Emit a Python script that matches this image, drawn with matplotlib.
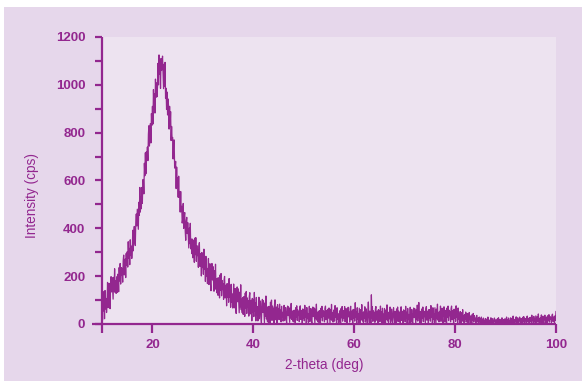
import matplotlib
matplotlib.use("Agg")
import matplotlib.pyplot as plt
import numpy as np
from matplotlib.patches import Rectangle
from matplotlib import font_manager

# ---- data ----
two_theta_start = 10.0
two_theta_step = 0.1
intensity = [
    91, 16, 136, 55, 101, 22, 140, 63, 107, 48,           # 10
    86, 174, 68, 138, 170, 94, 64, 168, 198, 134,         # 11
    194, 145, 104, 195, 138, 231, 132, 181, 128, 197,     # 12
    132, 208, 197, 135, 236, 180, 253, 167, 236, 204,     # 13
    233, 175, 264, 288, 205, 233, 272, 194, 295, 245,     # 14
    302, 238, 344, 274, 316, 248, 352, 286, 326, 274,     # 15
    308, 392, 306, 374, 408, 348, 328, 426, 460, 410,     # 16
    480, 433, 396, 509, 454, 571, 468, 533, 482, 571,     # 17
    504, 604, 604, 544, 672, 620, 716, 628, 720, 696,     # 18
    740, 683, 794, 829, 744, 783, 838, 757, 880, 831,     # 19
    910, 836, 980, 900, 962, 882, 1024, 948, 1008, 950,   # 20
    990, 1090, 1000, 1125, 1045, 1105, 985, 1110, 1060, 1095,  # 21
    1120, 1050, 984, 1086, 993, 1094, 944, 986, 897, 970,      # 22
    874, 941, 908, 815, 910, 825, 888, 767, 826, 769,     # 23
    780, 690, 768, 770, 652, 658, 680, 566, 656, 574,     # 24
    612, 530, 618, 530, 554, 468, 554, 470, 492, 422,     # 25
    438, 504, 400, 450, 466, 388, 350, 430, 446, 378,     # 26
    424, 367, 318, 401, 336, 421, 314, 355, 294, 355,     # 27
    277, 351, 332, 258, 359, 290, 361, 262, 328, 286,     # 28
    310, 237, 323, 340, 241, 263, 294, 201, 299, 236,     # 29
    290, 208, 313, 229, 263, 178, 283, 201, 233, 169,     # 30
    195, 274, 165, 226, 252, 171, 139, 230, 253, 184,     # 31
    240, 182, 137, 223, 160, 250, 145, 188, 130, 192,     # 32
    120, 193, 176, 109, 205, 142, 211, 118, 182, 144,     # 33
    168, 103, 184, 199, 109, 130, 163, 76, 169, 112,      # 34
    163, 91, 190, 111, 144, 70, 166, 92, 126, 67,         # 35
    95, 167, 67, 126, 148, 75, 44, 134, 155, 93,          # 36
    147, 91, 47, 133, 72, 164, 60, 104, 47, 111,          # 37
    40, 114, 98, 32, 129, 67, 136, 44, 109, 72,           # 38
    97, 33, 115, 131, 42, 65, 99, 13, 107, 51,            # 39
    103, 31, 132, 53, 87, 13, 111, 37, 72, 13,            # 40
    43, 112, 22, 74, 96, 30, 5, 84, 103, 48,              # 41
    97, 48, 6, 88, 32, 117, 21, 63, 10, 72,               # 42
    6, 74, 61, 2, 91, 33, 100, 15, 75, 42,                # 43
    66, 5, 83, 101, 18, 38, 71, 2, 81, 28,                # 44
    65, 18, 83, 35, 58, 9, 74, 27, 49, 12,                # 45
    29, 78, 14, 52, 69, 22, 4, 60, 75, 35,                # 46
    71, 36, 7, 65, 25, 86, 19, 50, 12, 56,                # 47
    9, 58, 49, 5, 68, 29, 76, 15, 59, 36,                 # 48
    52, 10, 66, 76, 19, 32, 57, 1, 63, 26,                # 49
    60, 13, 78, 30, 53, 4, 69, 22, 44, 7,                 # 50
    25, 74, 10, 48, 65, 18, 1, 56, 71, 31,                # 51
    68, 33, 4, 62, 22, 83, 16, 47, 9, 53,                 # 52
    7, 56, 47, 3, 66, 27, 74, 13, 57, 34,                 # 53
    51, 9, 65, 75, 18, 31, 56, 1, 62, 25,                 # 54
    67, 32, 3, 61, 21, 82, 15, 46, 8, 52,                 # 55
    59, 12, 77, 29, 52, 3, 68, 21, 43, 6,                 # 56
    6, 55, 46, 2, 65, 26, 73, 12, 56, 33,                 # 57
    24, 73, 9, 47, 64, 17, 1, 55, 70, 30,                 # 58
    50, 8, 64, 74, 17, 30, 55, 1, 61, 24,                 # 59
    59, 12, 89, 29, 52, 3, 68, 21, 43, 6,                 # 60
    66, 31, 2, 60, 20, 81, 14, 45, 7, 51,                 # 61
    23, 72, 8, 46, 63, 16, 1, 54, 92, 29,                 # 62
    5, 54, 45, 1, 122, 25, 72, 11, 55, 32,                # 63
    49, 7, 63, 73, 16, 29, 54, 1, 60, 23,                 # 64
    57, 10, 75, 27, 50, 1, 66, 19, 41, 4,                 # 65
    65, 30, 1, 59, 19, 80, 13, 44, 6, 50,                 # 66
    22, 71, 7, 45, 62, 15, 1, 53, 68, 28,                 # 67
    4, 53, 44, 1, 63, 24, 71, 10, 54, 31,                 # 68
    48, 6, 62, 72, 15, 28, 53, 1, 59, 22,                 # 69
    56, 9, 74, 26, 49, 1, 65, 18, 40, 3,                  # 70
    21, 70, 6, 44, 61, 14, 1, 52, 67, 27,                 # 71
    64, 29, 1, 58, 18, 79, 12, 43, 90, 49,                # 72
    4, 53, 44, 1, 63, 24, 71, 10, 54, 31,                 # 73
    49, 7, 63, 73, 16, 29, 54, 1, 60, 23,                 # 74
    59, 12, 77, 29, 52, 3, 68, 21, 43, 6,                 # 75
    68, 33, 4, 62, 22, 83, 16, 47, 9, 53,                 # 76
    26, 75, 11, 49, 66, 19, 1, 57, 72, 32,                # 77
    8, 57, 48, 4, 67, 28, 75, 14, 58, 35,                 # 78
    51, 9, 65, 75, 18, 31, 56, 1, 62, 25,                 # 79
    58, 11, 76, 28, 51, 2, 67, 20, 42, 5,                 # 80
    52, 24, 3, 47, 15, 60, 10, 36, 5, 40,                 # 81
    20, 50, 8, 34, 44, 13, 3, 39, 48, 22,                 # 82
    4, 34, 28, 2, 40, 16, 44, 8, 35, 20,                  # 83
    24, 3, 30, 36, 8, 14, 26, 1, 29, 11,                  # 84
    21, 3, 29, 9, 18, 1, 25, 6, 15, 1,                    # 85
    23, 10, 1, 21, 6, 29, 3, 15, 1, 17,                   # 86
    7, 26, 1, 16, 22, 4, 1, 19, 25, 9,                    # 87
    1, 18, 15, 1, 23, 7, 26, 2, 19, 10,                   # 88
    17, 1, 22, 26, 4, 9, 18, 1, 21, 7,                    # 89
    21, 3, 29, 9, 18, 1, 25, 6, 15, 1,                    # 90
    26, 12, 1, 24, 7, 33, 4, 17, 1, 20,                   # 91
    9, 30, 3, 19, 26, 6, 1, 22, 29, 12,                   # 92
    2, 23, 19, 1, 28, 11, 31, 5, 24, 14,                  # 93
    22, 4, 28, 33, 8, 14, 24, 1, 27, 11,                  # 94
    28, 6, 37, 14, 25, 2, 32, 10, 20, 3,                  # 95
    34, 16, 1, 31, 11, 42, 7, 23, 3, 26,                  # 96
    13, 38, 5, 25, 33, 9, 1, 29, 37, 16,                  # 97
    4, 29, 25, 2, 35, 15, 39, 8, 31, 19,                  # 98
    28, 6, 35, 41, 11, 18, 30, 2, 34, 15,                 # 99
    52,                                                   # 100
]
x_ticks = [20, 40, 60, 80, 100]
y_ticks = [0, 200, 400, 600, 800, 1000, 1200]
y_minor_ticks = [100, 300, 500, 700, 900, 1100]
x_label = "2-theta (deg)"
y_label = "Intensity (cps)"

# ---- style ----
PURPLE = "#93278f"
OUTER = "#e6d7eb"
INNER = "#ede3f0"

avail = {f.name for f in font_manager.fontManager.ttflist}
fam = "Liberation Sans Narrow" if "Liberation Sans Narrow" in avail else "Liberation Sans"
plt.rcParams['font.family'] = [fam, 'DejaVu Sans']

W, H = 582, 381
fig = plt.figure(figsize=(W / 100, H / 100), dpi=100)
fig.patch.set_facecolor("white")
fig.patches.append(Rectangle((4 / W, 0), 1 - 4 / W, (H - 7) / H,
                             transform=fig.transFigure, facecolor=OUTER,
                             edgecolor="none", zorder=-10))

ax = fig.add_axes([102 / W, 57 / H, (556 - 102) / W, (324 - 37) / H])
ax.set_facecolor(INNER)

x = two_theta_start + two_theta_step * np.arange(len(intensity))
ax.plot(x, intensity, color=PURPLE, lw=0.9)

ax.set_xlim(10, 100)
ax.set_ylim(0, 1200)

for s in ax.spines.values():
    s.set_visible(False)
# extended axis lines
ax.plot([0, 0], [-9 / 287, 1], transform=ax.transAxes, color=PURPLE, lw=1.6,
        clip_on=False, solid_capstyle="butt")
ax.plot([-10 / 454, 1], [0, 0], transform=ax.transAxes, color=PURPLE, lw=1.6,
        clip_on=False, solid_capstyle="butt")

ax.set_xticks(x_ticks)
ax.set_xticklabels([str(v) for v in x_ticks])
ax.set_yticks(y_ticks)
ax.set_yticklabels([str(v) for v in y_ticks])
ax.set_yticks(y_minor_ticks, minor=True)
ax.tick_params(axis="x", direction="out", length=6.5, width=1.6, color=PURPLE,
               labelcolor=PURPLE, labelsize=9.5, pad=4.5)
ax.tick_params(axis="y", which="both", direction="out", length=5, width=1.6,
               color=PURPLE, labelcolor=PURPLE, labelsize=9.5, pad=7)
for lab in ax.get_xticklabels() + ax.get_yticklabels():
    lab.set_fontweight("bold")

ax.set_xlabel(x_label, color=PURPLE, fontsize=9.8)
ax.set_ylabel(y_label, color=PURPLE, fontsize=9.8)
ax.xaxis.set_label_coords((324 - 102) / 454, -(358 - 324) / 287)
ax.yaxis.set_label_coords((39 - 102) / 454, (324 - 196) / 287)

fig.savefig("out.png", dpi=100, facecolor=fig.get_facecolor())
